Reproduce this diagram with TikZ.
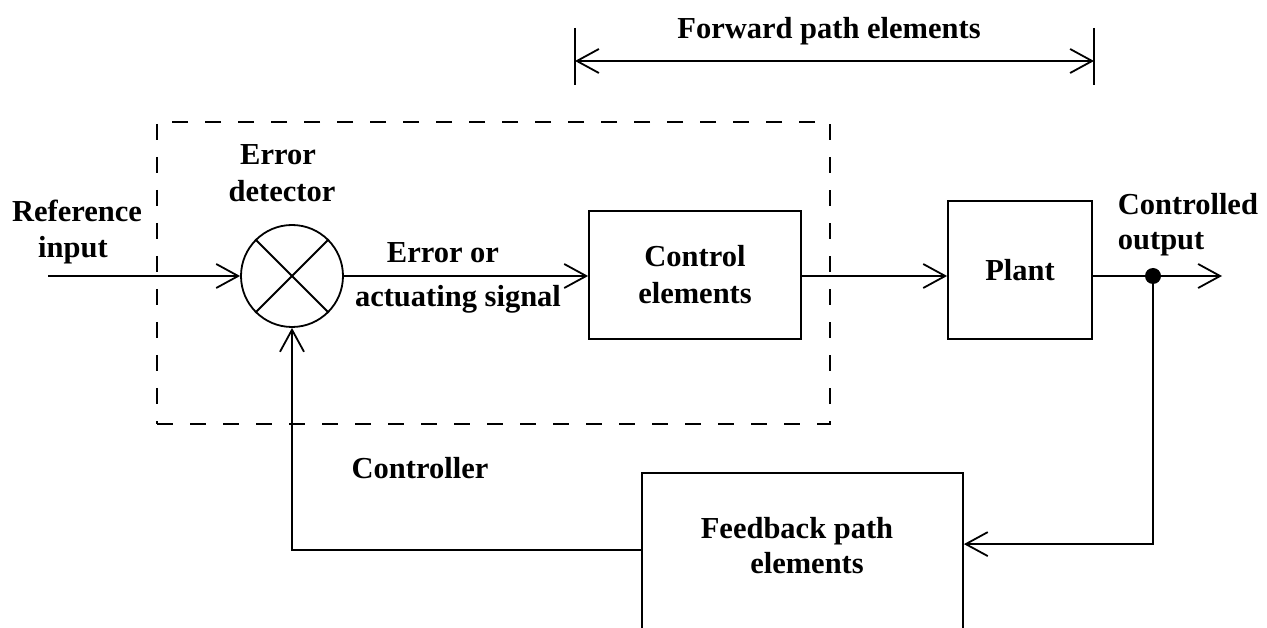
\documentclass[tikz,border=0pt]{standalone}
\usepackage{fontspec}
\setmainfont{Liberation Serif}
\usetikzlibrary{arrows.meta}
\begin{document}
\begin{tikzpicture}[x=1pt,y=-1pt,line width=1.8pt,
  lbl/.style={font=\fontsize{30.5}{36}\selectfont\bfseries,inner sep=0pt,anchor=base},
  blk/.style={draw,inner sep=0pt,align=center,font=\fontsize{30.5}{37}\selectfont\bfseries},
  arr/.style={line width=1.8pt,-{Straight Barb[length=22pt,width=24pt]}},
  dblarr/.style={line width=1.8pt,{Straight Barb[length=22pt,width=24pt]}-{Straight Barb[length=22pt,width=24pt]}},
  dashbox/.style={draw,dash pattern=on 16pt off 17pt,inner sep=0pt}]
\useasboundingbox (0,0) rectangle (1267,628);
\clip (0,0) rectangle (1267,628);

% controller (dashed) region
\node[dashbox,minimum width=673pt,minimum height=302pt] (cregion) at (493.5,273) {};

% blocks
\node[draw,circle,minimum size=102pt,inner sep=0pt] (sj) at (292,276) {};
\draw (sj.45) -- (sj.225) (sj.135) -- (sj.-45);
\node[blk,minimum width=212pt,minimum height=128pt] (ctrl) at (695,275) {Control\\elements};
\node[blk,minimum width=144pt,minimum height=138pt] (plant) at (1020,270) {Plant};
\node[draw,inner sep=0pt,minimum width=321pt,minimum height=240pt] (fb) at (802.5,593) {};

% labels
\node[lbl] (fpe) at (829,39) {Forward path elements};
\node[lbl] (ref1) at (77,222) {Reference};
\node[lbl] (ref2) at (73,258) {input};
\node[lbl] (ed1) at (278,165) {Error};
\node[lbl] (ed2) at (282,202) {detector};
\node[lbl] (es1) at (443,263) {Error or};
\node[lbl] (es2) at (458,307) {actuating signal};
\node[lbl,anchor=base west] (co1) at (1117,215) {Controlled};
\node[lbl,anchor=base west] (co2) at (1117,250) {output};
\node[lbl] (cl) at (420,478) {Controller};
\node[lbl] (fbt1) at (797,538) {Feedback path};
\node[lbl] (fbt2) at (807,573) {elements};

% forward path span
\coordinate (fpl) at (575,61);
\coordinate (fpr) at (1094,61);
\draw ([yshift=33pt]fpl) -- ([yshift=-24pt]fpl);
\draw ([yshift=33pt]fpr) -- ([yshift=-24pt]fpr);
\draw[dblarr] (fpl) -- (fpr);

% signal path
\coordinate (in) at (48,276);
\coordinate (tap) at (1153,276);
\coordinate (out) at (1222,276);
\draw[arr] (in) -- (sj.west);
\draw[arr] (sj.east) -- (sj.east -| ctrl.west);
\draw[arr] (ctrl.east |- sj.east) -- (sj.east -| plant.west);
\draw (plant.east |- tap) -- (tap);
\draw[arr] (tap) -- (out);
\fill (tap) circle (8pt);

% feedback
\draw[arr] (tap) |- ([yshift=-72pt]fb.north east);
\draw[arr] ([yshift=-78pt]fb.north west) -| (sj.south);
\end{tikzpicture}
\end{document}
